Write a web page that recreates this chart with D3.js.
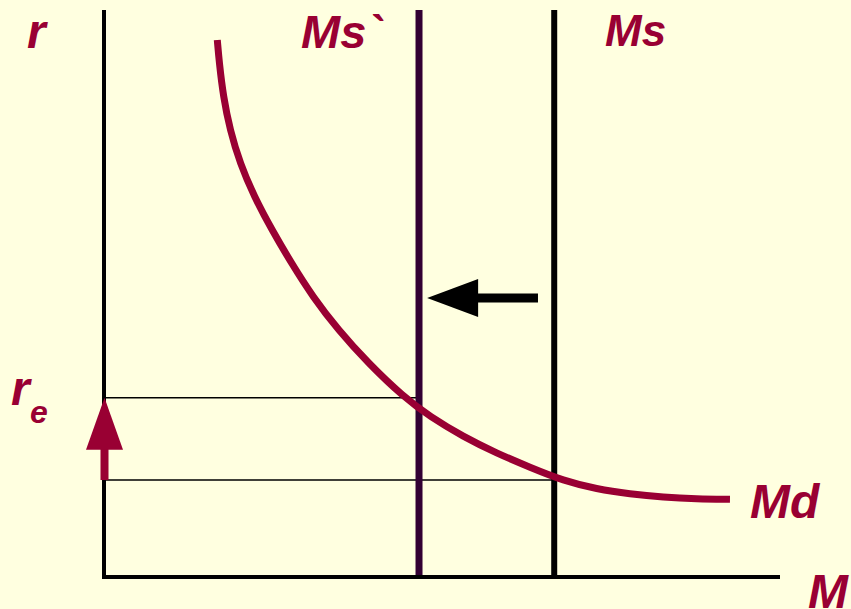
<!DOCTYPE html>
<html>
<head>
<meta charset="utf-8">
<script src="https://cdn.jsdelivr.net/npm/d3@7"></script>
<style>
html,body{margin:0;padding:0;background:#FFFFE0;overflow:hidden;}
svg{display:block;}
text{font-family:"Liberation Sans",Arial,sans-serif;font-weight:bold;font-style:italic;fill:#990033;}
</style>
</head>
<body>
<script>
// Money demand curve Md: [M, r]
const mdCurve = [
  [16.76, 94.71], [17.06, 90.60], [17.65, 84.71], [18.64, 78.84], [20.12, 72.96],
  [22.23, 67.07], [24.85, 61.20], [27.74, 55.33], [30.87, 49.44], [34.66, 43.56],
  [39.10, 37.69], [44.27, 31.80], [48.22, 28.27], [53.15, 24.74], [58.09, 21.82],
  [63.02, 19.35], [67.94, 16.98], [72.88, 15.52], [77.81, 14.64], [82.74, 14.06],
  [87.68, 13.76], [92.60, 13.70]
];
// Money supply levels
const msNew = 46.6;   // Ms`
const msOld = 66.6;   // Ms
// Interest rates
const rNew = 31.6;    // r_e (new equilibrium)
const rOld = 17.1;    // old equilibrium
// Shift arrow (Ms -> Ms`)
const shiftArrow = { from: 64.2, to: 47.8, r: 49.2 };
// Labels
const labels = { yAxis: "r", xAxis: "M", msNew: "Ms`", msOld: "Ms", md: "Md", re: "r", reSub: "e" };

const W = 851, H = 609;
const svg = d3.select("body").append("svg").attr("width", W).attr("height", H);
svg.append("rect").attr("width", W).attr("height", H).attr("fill", "#FFFFE0");

const x = d3.scaleLinear().domain([0, 100]).range([104, 780]);
const y = d3.scaleLinear().domain([0, 100]).range([577, 10]);

// thin guide lines
svg.append("line").attr("x1", x(0)).attr("x2", x(msNew)).attr("y1", y(rNew)).attr("y2", y(rNew))
  .attr("stroke", "#000").attr("stroke-width", 1.5);
svg.append("line").attr("x1", x(0)).attr("x2", x(msOld) + 6).attr("y1", y(rOld)).attr("y2", y(rOld))
  .attr("stroke", "#000").attr("stroke-width", 1.5);

// supply lines
svg.append("line").attr("x1", x(msOld)).attr("x2", x(msOld)).attr("y1", y(0)).attr("y2", y(100))
  .attr("stroke", "#000").attr("stroke-width", 6);
svg.append("line").attr("x1", x(msNew)).attr("x2", x(msNew)).attr("y1", y(0)).attr("y2", y(100))
  .attr("stroke", "#330033").attr("stroke-width", 7);

// Md curve
const line = d3.line().x(d => x(d[0])).y(d => y(d[1])).curve(d3.curveBasis);
svg.append("path").attr("d", line(mdCurve)).attr("fill", "none")
  .attr("stroke", "#990033").attr("stroke-width", 7);

// axes
svg.append("path")
  .attr("d", `M${x(0)},${y(100)}L${x(0)},${y(0)}L${x(100)},${y(0)}`)
  .attr("fill", "none").attr("stroke", "#000").attr("stroke-width", 4).attr("stroke-linejoin", "miter");

// black shift arrow
const ay = y(shiftArrow.r);
const tipX = x(shiftArrow.to), headBase = tipX + 51, tailX = x(shiftArrow.from);
svg.append("line").attr("x1", headBase - 2).attr("x2", tailX).attr("y1", ay).attr("y2", ay)
  .attr("stroke", "#000").attr("stroke-width", 9);
svg.append("path").attr("d", `M${tipX},${ay}L${headBase},${ay - 19}L${headBase},${ay + 19}Z`).attr("fill", "#000");

// red up arrow on y axis
const ax = x(0) + 0.5;
const tipY = y(rNew), baseY = tipY + 52, tailY = y(rOld);
svg.append("line").attr("x1", ax).attr("x2", ax).attr("y1", baseY - 2).attr("y2", tailY)
  .attr("stroke", "#990033").attr("stroke-width", 8);
svg.append("path").attr("d", `M${ax},${tipY}L${ax - 18.5},${baseY}L${ax + 18.5},${baseY}Z`).attr("fill", "#990033");

// labels
svg.append("text").attr("x", 27).attr("y", 48).attr("font-size", 48).text(labels.yAxis);
svg.append("text").attr("x", 301).attr("y", 48).attr("font-size", 47).text(labels.msNew);
svg.append("text").attr("x", 605).attr("y", 46).attr("font-size", 44).text(labels.msOld);
svg.append("text").attr("x", 750).attr("y", 518).attr("font-size", 48).text(labels.md);
svg.append("text").attr("x", 808).attr("y", 608).attr("font-size", 48).text(labels.xAxis);
const re = svg.append("text").attr("x", 11).attr("y", 405).attr("font-size", 48);
re.append("tspan").text(labels.re);
re.append("tspan").attr("x", 30).attr("y", 423).attr("font-size", 32).text(labels.reSub);
</script>
</body>
</html>
